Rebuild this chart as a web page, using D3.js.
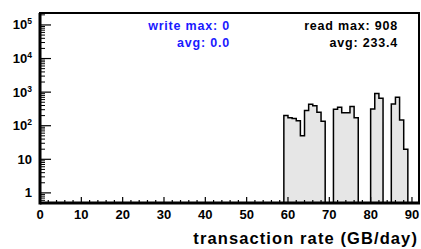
<!DOCTYPE html>
<html>
<head>
<meta charset="utf-8">
<script src="https://cdn.jsdelivr.net/npm/d3@7/dist/d3.min.js"></script>
<style>
  body { margin: 0; background: #fff; }
  svg { display: block; font-family: "Liberation Sans", Arial, Helvetica, sans-serif; font-weight: bold; }
</style>
</head>
<body>
<div id="chart"></div>
<script>
// histogram bins (left edge, GB/day) and counts
const binLeft = [59, 60, 61, 62, 63, 64, 65, 66, 67, 68, 69, 70, 71, 72, 73, 74, 75, 76, 77, 78, 79, 80, 81, 82, 83, 84, 85, 86, 87, 88];
const counts  = [200, 172, 165, 140, 50, 282, 437, 390, 250, 135, 0, 0, 310, 355, 245, 245, 371, 174, 0, 0, 0, 316, 908, 660, 0, 0, 446, 705, 148, 20];
const binWidth = 1;

const xTicks = [0, 10, 20, 30, 40, 50, 60, 70, 80, 90];
const yDecades = [1, 10, 100, 1000, 10000, 100000];
const yTickLabels = [['1', ''], ['10', ''], ['10', '2'], ['10', '3'], ['10', '4'], ['10', '5']];

const writeStats = ['write max: 0', 'avg: 0.0'];
const readStats = ['read max: 908', 'avg: 233.4'];
const xTitle = 'transaction rate (GB/day)';

const W = 421, H = 249;
const frame = { left: 40, right: 419, top: 13, bottom: 203 };

const svg = d3.select('#chart')
  .append('svg')
  .attr('width', W)
  .attr('height', H);

const x = d3.scaleLinear()
  .domain([0, 91.7])
  .range([frame.left, frame.right]);

const y = d3.scaleLog()
  .domain([0.5, 2.27e5])
  .range([frame.bottom, frame.top]);

const ymin = y.domain()[0];
const bins = binLeft.map((b, i) => ({ x0: b, x1: b + binWidth, v: counts[i] }));

// step outline points
const pts = [];
bins.forEach(d => {
  const v = d.v > 0 ? d.v : ymin;
  pts.push([d.x0, v], [d.x1, v]);
});
pts.unshift([bins[0].x0, ymin]);
pts.push([bins[bins.length - 1].x1, ymin]);

// filled area
svg.append('path')
  .attr('d', d3.area().x(d => x(d[0])).y0(y(ymin)).y1(d => y(d[1]))(pts))
  .style('fill', '#e6e6e6');

svg.append('path')
  .attr('d', d3.line().x(d => x(d[0])).y(d => y(d[1]))(pts))
  .style('fill', 'none')
  .style('stroke', '#000')
  .style('stroke-width', 1.5);

// x ticks (drawn upward inside the frame)
const xMinor = d3.range(0, 92, 2);
svg.append('g')
  .selectAll('line')
  .data(xMinor)
  .enter()
  .append('line')
  .attr('x1', d => x(d))
  .attr('x2', d => x(d))
  .attr('y1', frame.bottom)
  .attr('y2', d => frame.bottom - (d % 10 === 0 ? 6 : 3))
  .style('stroke', '#000')
  .style('stroke-width', 1.2);

svg.append('g')
  .selectAll('text')
  .data(xTicks)
  .enter()
  .append('text')
  .attr('x', d => x(d))
  .attr('y', 219)
  .attr('text-anchor', 'middle')
  .style('font-size', '13px')
  .text(d => d);

// y ticks (drawn rightward inside the frame)
const yMinor = [0.6, 0.7, 0.8, 0.9];
yDecades.forEach(dec => {
  for (let k = 2; k <= 9; k++) yMinor.push(dec * k);
});

svg.append('g')
  .selectAll('line')
  .data(yMinor.filter(d => y(d) >= frame.top))
  .enter()
  .append('line')
  .attr('x1', frame.left)
  .attr('x2', frame.left + 5)
  .attr('y1', d => y(d))
  .attr('y2', d => y(d))
  .style('stroke', '#000')
  .style('stroke-width', 1);

svg.append('g')
  .selectAll('line')
  .data(yDecades)
  .enter()
  .append('line')
  .attr('x1', frame.left)
  .attr('x2', frame.left + 11)
  .attr('y1', d => y(d))
  .attr('y2', d => y(d))
  .style('stroke', '#000')
  .style('stroke-width', 1.2);

const yLab = svg.append('g')
  .selectAll('text')
  .data(yDecades)
  .enter()
  .append('text')
  .attr('x', 32)
  .attr('y', d => y(d) + 4.5)
  .attr('text-anchor', 'end')
  .style('font-size', '13px');

yLab.append('tspan')
  .text((d, i) => yTickLabels[i][0]);
yLab.append('tspan')
  .attr('dy', -5)
  .style('font-size', '8.5px')
  .text((d, i) => yTickLabels[i][1]);

// frame
svg.append('rect')
  .attr('x', frame.left)
  .attr('y', frame.top)
  .attr('width', frame.right - frame.left)
  .attr('height', frame.bottom - frame.top)
  .style('fill', 'none')
  .style('stroke', '#000')
  .style('stroke-width', 2);

svg.append('line')
  .attr('x1', frame.left).attr('x2', frame.left)
  .attr('y1', frame.top).attr('y2', frame.bottom + 1.5)
  .style('stroke', '#000').style('stroke-width', 3);
svg.append('line')
  .attr('x1', frame.left).attr('x2', frame.right + 1)
  .attr('y1', frame.bottom).attr('y2', frame.bottom)
  .style('stroke', '#000').style('stroke-width', 3);

// stats text
svg.append('g')
  .selectAll('text')
  .data(writeStats)
  .enter()
  .append('text')
  .attr('x', 230)
  .attr('y', (d, i) => 30 + i * 17)
  .attr('text-anchor', 'end')
  .style('font-size', '12.5px')
  .style('letter-spacing', '0.8px')
  .style('fill', '#1a1aff')
  .text(d => d);

svg.append('g')
  .selectAll('text')
  .data(readStats)
  .enter()
  .append('text')
  .attr('x', 398)
  .attr('y', (d, i) => 30 + i * 17)
  .attr('text-anchor', 'end')
  .style('font-size', '12.5px')
  .style('letter-spacing', '0.8px')
  .style('fill', '#000')
  .text(d => d);

// axis title
svg.append('text')
  .attr('x', 418)
  .attr('y', 244)
  .attr('text-anchor', 'end')
  .style('font-size', '16.5px')
  .style('letter-spacing', '1.1px')
  .text(xTitle);
</script>
</body>
</html>
